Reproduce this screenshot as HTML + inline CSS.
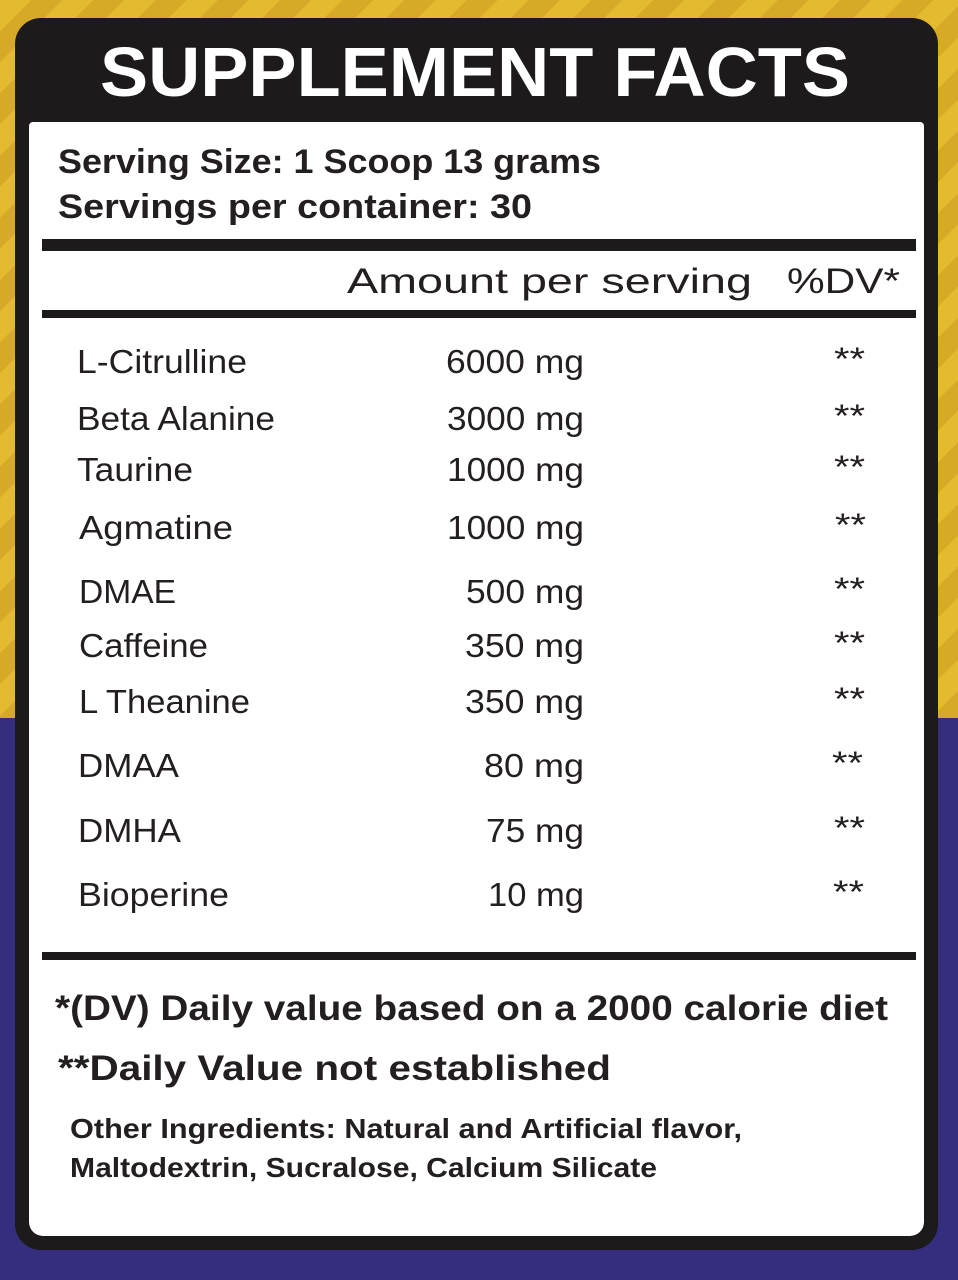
<!DOCTYPE html>
<html><head><meta charset="utf-8"><style>
html,body{margin:0;padding:0}
body{width:958px;height:1280px;position:relative;overflow:hidden;background:#352e7e}
.y{position:absolute;left:0;top:0;width:958px;height:718px;background:repeating-linear-gradient(135deg,#e4bb30 0 22px,#d6aa27 22px 44px)}
.card{position:absolute;left:15px;top:18px;width:923px;height:1232px;background:#1c1a1b;border-radius:26px}
.in{position:absolute;left:29px;top:122px;width:895px;height:1114px;background:#fff;border-radius:4px 4px 14px 14px}
svg{position:absolute;left:0;top:0}
</style></head><body>
<div class="y"></div>
<div class="card"></div>
<div class="in"></div>
<svg width="958" height="1280" font-family="Liberation Sans, sans-serif">
<text x="100" y="96" font-size="70" font-weight="bold" fill="#fff" textLength="750" lengthAdjust="spacingAndGlyphs">SUPPLEMENT FACTS</text>
<g fill="#231f20" font-weight="bold" font-size="34">
<text x="58" y="173" textLength="543" lengthAdjust="spacingAndGlyphs">Serving Size: 1 Scoop 13 grams</text>
<text x="58" y="218" textLength="474" lengthAdjust="spacingAndGlyphs">Servings per container: 30</text>
<text x="347" y="293" font-weight="normal" font-size="35" textLength="405" lengthAdjust="spacingAndGlyphs">Amount per serving</text>
<text x="787" y="293" font-weight="normal" font-size="35" textLength="113" lengthAdjust="spacingAndGlyphs">%DV*</text>
</g>
<rect x="42" y="239" width="874" height="12" fill="#1c1a1b"/>
<rect x="42" y="310" width="874" height="8" fill="#1c1a1b"/>
<rect x="42" y="952" width="874" height="8" fill="#1c1a1b"/>
<g fill="#231f20" font-size="33">
<text x="77" y="373" textLength="170" lengthAdjust="spacingAndGlyphs">L-Citrulline</text>
<text x="77" y="430" textLength="198" lengthAdjust="spacingAndGlyphs">Beta Alanine</text>
<text x="77" y="481" textLength="116" lengthAdjust="spacingAndGlyphs">Taurine</text>
<text x="79" y="539" textLength="154" lengthAdjust="spacingAndGlyphs">Agmatine</text>
<text x="79" y="603" textLength="97" lengthAdjust="spacingAndGlyphs">DMAE</text>
<text x="79" y="657" textLength="129" lengthAdjust="spacingAndGlyphs">Caffeine</text>
<text x="79" y="713" textLength="171" lengthAdjust="spacingAndGlyphs">L Theanine</text>
<text x="78" y="777" textLength="101" lengthAdjust="spacingAndGlyphs">DMAA</text>
<text x="78" y="842" textLength="103" lengthAdjust="spacingAndGlyphs">DMHA</text>
<text x="78" y="906" textLength="151" lengthAdjust="spacingAndGlyphs">Bioperine</text>
<text x="446" y="373" textLength="138" lengthAdjust="spacingAndGlyphs">6000 mg</text>
<text x="447" y="430" textLength="137" lengthAdjust="spacingAndGlyphs">3000 mg</text>
<text x="447" y="481" textLength="137" lengthAdjust="spacingAndGlyphs">1000 mg</text>
<text x="447" y="539" textLength="137" lengthAdjust="spacingAndGlyphs">1000 mg</text>
<text x="466" y="603" textLength="118" lengthAdjust="spacingAndGlyphs">500 mg</text>
<text x="465" y="657" textLength="119" lengthAdjust="spacingAndGlyphs">350 mg</text>
<text x="465" y="713" textLength="119" lengthAdjust="spacingAndGlyphs">350 mg</text>
<text x="484" y="777" textLength="100" lengthAdjust="spacingAndGlyphs">80 mg</text>
<text x="486" y="842" textLength="98" lengthAdjust="spacingAndGlyphs">75 mg</text>
<text x="488" y="906" textLength="96" lengthAdjust="spacingAndGlyphs">10 mg</text>
<g font-size="32">
<text x="834" y="370" textLength="31" lengthAdjust="spacingAndGlyphs">**</text><text x="834" y="427" textLength="31" lengthAdjust="spacingAndGlyphs">**</text><text x="834" y="478" textLength="31" lengthAdjust="spacingAndGlyphs">**</text>
<text x="835" y="536" textLength="31" lengthAdjust="spacingAndGlyphs">**</text><text x="834" y="600" textLength="31" lengthAdjust="spacingAndGlyphs">**</text><text x="834" y="654" textLength="31" lengthAdjust="spacingAndGlyphs">**</text>
<text x="834" y="710" textLength="31" lengthAdjust="spacingAndGlyphs">**</text><text x="832" y="774" textLength="31" lengthAdjust="spacingAndGlyphs">**</text><text x="834" y="839" textLength="31" lengthAdjust="spacingAndGlyphs">**</text>
<text x="833" y="903" textLength="31" lengthAdjust="spacingAndGlyphs">**</text>
</g>
</g>
<g fill="#231f20" font-weight="bold">
<text x="55" y="1020" font-size="35" textLength="833" lengthAdjust="spacingAndGlyphs">*(DV) Daily value based on a 2000 calorie diet</text>
<text x="58" y="1080" font-size="35" textLength="553" lengthAdjust="spacingAndGlyphs">**Daily Value not established</text>
<text x="70" y="1138" font-size="28" textLength="672" lengthAdjust="spacingAndGlyphs">Other Ingredients: Natural and Artificial flavor,</text>
<text x="70" y="1177" font-size="28" textLength="587" lengthAdjust="spacingAndGlyphs">Maltodextrin, Sucralose, Calcium Silicate</text>
</g>
</svg>
</body></html>
